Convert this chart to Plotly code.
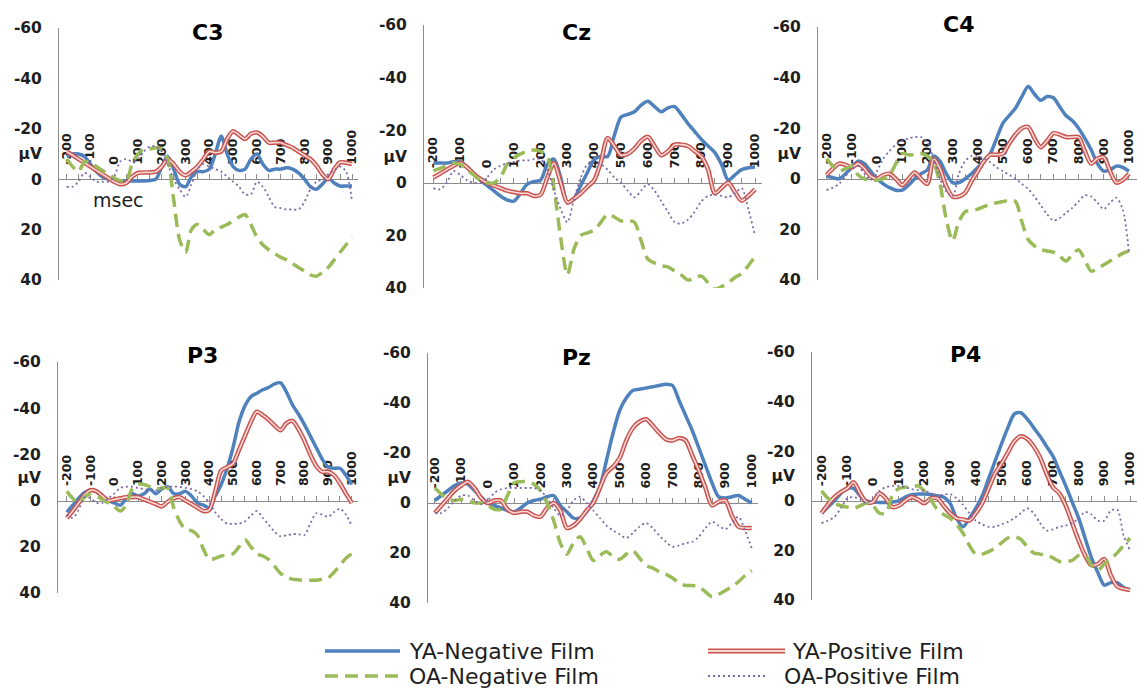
import plotly.graph_objects as go

# ---------------- data ----------------
T = list(range(-200, 1001, 25))  # msec
X_TICKS = list(range(-200, 1001, 50))
X_LABELS = [str(t) if t % 100 == 0 else "" for t in X_TICKS]
Y_TICKS = [-60, -40, -20, -10, 0, 20, 40]
Y_LABELS = ["-60", "-40", "-20", "μV", "0", "20", "40"]
SERIES = ["YA-Negative Film", "YA-Positive Film", "OA-Negative Film", "OA-Positive Film"]
PANELS = ["C3", "Cz", "C4", "P3", "Pz", "P4"]

C3_YA_NEG = [-9, -10, -10, -9, -6, -3, -1, 0, 0.5, 0.7, 0.7, 0.7, 0.7, 0.7, 0.5, 0,
             -5, -9, -4, 2, 3, -1, -3, -3, -4, -10, -17, -10, -5, -3.5, -4, -8,
             -10, -6, -3.5, -4, -4, -4.5, -4, -2.5, 0, 3, 4, 2, -0.5, 1.5, 2.7, 2.7, 2.7]
C3_YA_POS = [-11, -9.5, -8, -6.5, -5, -3.5, -2, -0.5, 1, 2, 1.5, -1, -2.5, -2.7, -2.7, -3,
             -5, -8, -6, -3, -1.5, -3, -5, -8, -11, -10.5, -11, -16, -19, -17.5, -16, -18,
             -18.5, -17, -14.5, -14.5, -14.5, -13.5, -12.5, -11, -9.5, -8, -5.5, -2, 0, -4, -6.7, -6.5, -6]
C3_OA_NEG = [-8, -5, -3, -7, -6.5, -5, -3.5, -2, -0.5, 0.5, 1, -6, -10, -12, -12, -12.5,
             -12, -8, 8, 24, 29, 20, 18, 20, 22, 20, 19, 18, 16.5, 15, 14, 18,
             23, 26, 28, 29.5, 31, 32, 33.5, 35, 36.5, 38, 38.5, 37, 35, 32, 29, 26, 23]
C3_OA_POS = [3, 3, 1, -2.5, -1, 1, 1, 1, -1, -7, -8, -7, -8, -11, -13, -13,
             -11, -6, 0, 4, 7, 2, -4, -6, -5, -4, -3, -1, 1, 3, 6, 6,
             1, 3, 7, 11, 11.5, 12, 12, 12, 9, 4, 1, 0, -2, -3.5, -5, -3, 9]

CZ_YA_NEG = [-7.5, -7.5, -7.5, -8, -8, -6, -3.5, -1, 1, 3, 5, 6.5, 7, 4, 0.5, -0.5,
             -1, -7, -9, -2, 7.5, 6, 1, -4, -9, -10, -10, -18, -25, -26, -27, -29.5,
             -31, -29, -27, -28.5, -29, -26, -22.5, -19.5, -16.5, -14, -11.5, -7, -1, -3, -5, -5.7, -6]
CZ_YA_POS = [-2, -3.5, -5, -6.5, -7.5, -6, -3.5, -1.5, 0, 1, 2, 3, 3.5, 4, 4, 5,
             4.5, -2, -7.5, 0, 7.5, 6, 4, 1.5, -1, -8, -17, -14, -10.5, -11, -13, -16,
             -17.5, -14, -10.5, -12, -14.5, -14.5, -14, -12, -10, -5, 4, 2, 0, 3.5, 6.8, 5, 2.5]
CZ_OA_NEG = [-4.5, -5.5, -6.5, -7.5, -7, -5, -3, -1, 0, 0, -2, -7, -9.5, -11, -12, -12.5,
             -12, -10, 2, 21, 35, 25, 20, 19, 18, 15, 12, 13, 14.5, 14.5, 15, 22,
             29, 30.5, 31.5, 32, 33.5, 35, 37, 36, 35.5, 38, 40.5, 39.5, 38, 36, 34.5, 31.5, 28]
CZ_OA_POS = [2, 2.5, 0, -4.5, -3, -1, 0, 0, -2, -5, -6.5, -7.5, -8, -8.5, -8.5, -9,
             -9, -5, 3, 10, 15, 6, -2, -7, -8, -7, -5, -2, 0, 3, 5.5, 3,
             0.5, 3, 7, 11, 15, 15.5, 14, 11, 7, 5, 4.5, 5, 5.5, 4, 2, 10, 20]

C4_YA_NEG = [-1, -0.5, 0, -2, -4.5, -7, -6, -3, 0, 2, 3.5, 4.5, 4.5, 2.5, 0, -2,
             -3.5, -9, -7, -2, 1.5, 1.5, 0, -2, -4.5, -7, -10, -16, -22, -25, -28, -32.5,
             -36.5, -33.5, -31, -32.5, -32, -28.5, -25, -23, -20, -16, -11.5, -6, -3, -3.5, -5, -4.5, -3]
C4_YA_POS = [-1.5, -4, -6, -5.5, -4.5, -6, -4, -1, 0, -1.5, -2, 0, 2.5, 0, -2.5, 0,
             2, -8, -4, 3, 7, 7, 5.5, 1, -3, -7, -9.5, -9.5, -10, -14, -17.5, -20,
             -20.5, -16, -12.5, -15, -18, -17.5, -16.5, -16.5, -16.5, -11, -6, -8, -8.5, -3, 1.5, 0.5, -2]
C4_OA_NEG = [-8, -5, -3, -4, -5, -1.5, 0, 0.5, 0.5, 0, -1.5, -6, -10, -9.5, -9.5, -10,
             -9, -6.5, 2, 16, 24.5, 17, 13, 12.5, 12, 11, 10, 9.5, 9, 8.5, 9, 17,
             24, 26.5, 28, 28.5, 29, 30.5, 32.5, 30, 28, 32, 36.5, 35.5, 34, 32.5, 31, 29.5, 28.5]
C4_OA_POS = [4.5, 3.5, 2, -1, -4, -5, -2, 0.5, -3, -8, -11, -13.5, -15, -16, -16.5, -16.5,
             -14.5, -8, 0, 5, 7, -2, -7, -9, -9, -8, -6.5, -4.5, -3, -1.5, 0, 2,
             4, 7, 10.5, 14, 16.5, 15.5, 13.5, 11.5, 9, 6.5, 7, 9.5, 12, 9.5, 7.5, 12, 29]

P3_YA_NEG = [5, 2, -1, -3.5, -4.5, -4, -2, 0, 1, 2, -1, -3, -2, -3, -5, -3,
             -5, -6, -3, -3, -4, -2, 1, 2, 3, -2, -7, -14, -23, -34, -41, -45,
             -46.5, -48, -49, -50.5, -51, -47, -41.5, -37.5, -33, -28, -23, -18, -14.5, -14, -14, -11, -7]
P3_YA_POS = [7.5, 4.5, 1, -2.5, -4.5, -4, -2, 0, -0.5, -1, -1.5, -1.5, -1.5, -0.5, 0.5, 1.5,
             2.5, 0.5, -1, -1.5, 0, 1.5, 3, 4.5, 4, -4, -13, -14.5, -16, -22, -28, -34,
             -38.5, -37, -35, -32.5, -30.5, -33.5, -34.5, -31, -26, -20, -15, -12.5, -12.5, -11, -7.5, -3, 1]
P3_OA_NEG = [-4, -1, 1, -1.5, -3, -2, -0.5, 1, 2.5, 4.5, 2, -5, -7, -7, -6, -5,
             -5.5, -5.5, 3, 9, 12.5, 13, 15, 21, 25.5, 25, 24, 23.5, 23, 20, 17, 20,
             23, 24, 25.5, 28.5, 31.5, 33, 34, 34.3, 34.5, 34.5, 34.5, 34, 33.5, 31, 28, 25, 23]
P3_OA_POS = [6, 7.5, 4, -1.5, -1, 1, 1, -1, -3, -5.5, -6, -6, -5.5, -5, -4.5, -4.5,
             -5.5, -6, -6, -6, -5.5, -5, -4, -2, 1, 5, 8, 10, 10, 10, 9, 6.5,
             4.5, 7.5, 10.5, 13.5, 15.5, 15, 14.5, 14.5, 15, 10, 5.5, 6, 7, 5, 3.5, 6, 11]

PZ_YA_NEG = [-1, -3, -5, -7, -8, -7.5, -5, -2.5, 0, 1, 2, 3, 3.5, 2, 0, -1,
             -1.5, -2.5, -3, 1, 3.5, 6, 6, 3.5, -1, -6.5, -17, -28, -37, -42, -45, -45.5,
             -46, -46.5, -47, -47.5, -47, -41, -35, -29, -22, -15, -8, -2.5, -2, -2.5, -3, -1.5, 0]
PZ_YA_POS = [4, 1, -2, -5, -7, -8.5, -6, -2, 0, -1, -1, 2.5, 4, 3.5, 3.5, 5,
             5.5, 2, 0, 3, 10, 9, 6.5, 3, 0, -6, -12, -14.5, -18, -25, -30, -32.5,
             -33.5, -31, -28, -25.5, -25, -26, -25, -19, -13, -6, 1, -0.5, -1, 5, 9.5, 10, 10]
PZ_OA_NEG = [-6, -3.5, -1.5, -1, -1.5, -1, 0, 0, 1, 2.5, 2.5, -3, -8, -8.5, -8.5, -7.5,
             -5, 0, 7, 16, 20.5, 16, 13.5, 18, 23, 21, 19.5, 21.5, 22.5, 20.5, 19, 22,
             25, 26, 27.5, 28.5, 30, 32, 33, 33, 33.5, 35.5, 37.5, 36.5, 35, 33.5, 31.5, 29, 27]
PZ_OA_POS = [4, 4, 2, -1, -3, -3, -1, 0.5, -1, -4, -5.5, -6, -6, -6, -6, -6,
             -5, -2, 2, 5, 3, -1, -2.5, 0, 3, 6, 9, 11, 12.5, 14, 12, 9.5,
             8, 10, 13, 15.5, 17.5, 17, 16, 15.5, 13.5, 10, 7.5, 9, 10.5, 8, 5.5, 11, 18]

P4_YA_NEG = [5, 2.5, 0, -3, -5, -5, -2, 0, 0.5, 0.7, 0.7, 0.5, 0, -1.5, -2.5, -2.7,
             -2.7, -2.5, -2, -1.5, 1, 7, 10.5, 7, 3, -2, -9, -16, -23, -29.5, -35, -35.5,
             -33, -29.5, -26, -22, -18, -12, -6, 0.5, 7, 15, 23, 29, 34, 33, 33, 35, 36]
P4_YA_POS = [5, 1.5, -1.5, -3.5, -5, -7.5, -3, 0.5, 0.5, -3, -1, 2.5, 2, 0, -1.5, -0.5,
             1, -1, -1, 2, 5, 7, 7.5, 8, 5, 1, -5, -11, -15, -19.5, -24, -26,
             -25, -22, -17.5, -11, -5.5, -3, 2, 9, 16, 22, 26, 25.5, 23.5, 30, 34.5, 35.5, 36]
P4_OA_NEG = [-4, -1, 1, 2, 2.5, 3, 2, 1, 2, 5, 5, -2, -5, -5.5, -5.5, -6,
             -4, -0.5, 3.5, 5.5, 7, 9.5, 13, 18, 21.5, 21.5, 20.5, 19, 17, 15, 14.5, 15.5,
             18.5, 21, 21.5, 22, 23, 24.5, 24.5, 24, 22, 22, 26, 28, 25.5, 23.5, 21, 18, 15]
P4_OA_POS = [9, 8, 6.5, 3, -1, -1.5, -0.5, 1, -1, -4, -5.5, -6, -6, -5.5, -4.7, -4.3,
             -4, -3, -2, -2.5, -2.7, -1, 1.5, 5, 8, 9.5, 10.5, 10.5, 9.5, 8.5, 7, 5,
             3, 5, 9, 12, 11.5, 10.5, 10, 9, 7, 4.5, 5.5, 8, 8, 4, 3.5, 14, 20]

DATA = {
    "C3": [C3_YA_NEG, C3_YA_POS, C3_OA_NEG, C3_OA_POS],
    "Cz": [CZ_YA_NEG, CZ_YA_POS, CZ_OA_NEG, CZ_OA_POS],
    "C4": [C4_YA_NEG, C4_YA_POS, C4_OA_NEG, C4_OA_POS],
    "P3": [P3_YA_NEG, P3_YA_POS, P3_OA_NEG, P3_OA_POS],
    "Pz": [PZ_YA_NEG, PZ_YA_POS, PZ_OA_NEG, PZ_OA_POS],
    "P4": [P4_YA_NEG, P4_YA_POS, P4_OA_NEG, P4_OA_POS],
}

# ---------------- layout geometry (pixels) ----------------
W, H = 1137, 688
# x0, x1, ytop, ybottom, xrange
GEOM = {
    "C3": (59, 358, 28, 280, [-232, 1025]),
    "Cz": (424, 762, 25, 288, [-235, 1026]),
    "C4": (818, 1137, 27, 280, [-234, 1032]),
    "P3": (58, 358, 362, 593, [-237, 1026]),
    "Pz": (428, 758, 353, 603, [-226, 1024]),
    "P4": (812, 1137, 352, 600, [-237, 1027]),
}
TITLE_POS = {"C3": (207, 33), "Cz": (576, 33), "C4": (958, 25),
             "P3": (202, 355), "Pz": (576, 357), "P4": (965, 354)}

BLUE = "#4F81BD"
RED = "#C9524E"
RED_IN = "#F6D9D7"
GREEN = "#9BBB59"
PURPLE = "#7E6AA8"
AXIS = "#8C8C8C"
TXT = "#1E1E1E"
FONT = "DejaVu Sans"

fig = go.Figure()
layout = dict(width=W, height=H, margin=dict(l=0, r=0, t=0, b=0, pad=0, autoexpand=False),
              paper_bgcolor="white", plot_bgcolor="rgba(0,0,0,0)",
              showlegend=False, autosize=False)
annotations = []
shapes = []

for i, name in enumerate(PANELS, start=1):
    sfx = "" if i == 1 else str(i)
    xa, ya = "x" + sfx, "y" + sfx
    x0, x1, yt, yb, xr = GEOM[name]
    ya_neg, ya_pos, oa_neg, oa_pos = DATA[name]
    common = dict(x=T, xaxis=xa, yaxis=ya, mode="lines", hoverinfo="skip")
    fig.add_trace(go.Scatter(y=ya_neg, line=dict(color=BLUE, width=3.5, shape="spline", smoothing=0.8), **common))
    fig.add_trace(go.Scatter(y=ya_pos, line=dict(color=RED, width=4.5, shape="spline", smoothing=0.8), **common))
    fig.add_trace(go.Scatter(y=ya_pos, line=dict(color=RED_IN, width=1.6, shape="spline", smoothing=0.8), **common))
    fig.add_trace(go.Scatter(y=oa_neg, line=dict(color=GREEN, width=3.5, dash="13px,7px", shape="spline", smoothing=0.8), **common))
    fig.add_trace(go.Scatter(y=oa_pos, line=dict(color=PURPLE, width=1.8, dash="2px,3px", shape="spline", smoothing=0.8), **common))

    zero_px = yt + (0 - (-60)) / 100.0 * (yb - yt)
    layout["xaxis" + sfx] = dict(
        domain=[x0 / W, x1 / W], range=xr, anchor="free", position=1 - zero_px / H,
        side="top", showline=True, linecolor=AXIS, linewidth=1,
        ticks="outside", ticklen=5, tickcolor=AXIS, tickwidth=1,
        tickmode="array", tickvals=X_TICKS, ticktext=X_LABELS, tickangle=-90,
        tickfont=dict(family=FONT, size=12.5, color=TXT, weight="bold"),
        ticklabelstandoff=7, ticklabeloverflow="allow",
        showgrid=False, zeroline=False, layer="below traces",
        automargin=False, fixedrange=True)
    layout["yaxis" + sfx] = dict(
        domain=[1 - yb / H, 1 - yt / H], range=[40, -60], anchor=xa,
        showline=True, linecolor=AXIS, linewidth=1, ticks="",
        tickmode="array", tickvals=Y_TICKS, ticktext=Y_LABELS,
        tickfont=dict(family=FONT, size=15.5, color=TXT, weight="bold"),
        ticklabelstandoff=13, showgrid=False, zeroline=False,
        automargin=False, fixedrange=True)

    tx, ty = TITLE_POS[name]
    annotations.append(dict(text=name, x=tx / W, y=1 - ty / H, xref="paper", yref="paper",
                            showarrow=False, xanchor="center", yanchor="middle",
                            font=dict(family=FONT, size=22, color="black", weight="bold")))

# "msec" label in C3
annotations.append(dict(text="msec", x=118 / W, y=1 - 200 / H, xref="paper", yref="paper",
                        showarrow=False, xanchor="center", yanchor="middle",
                        font=dict(family=FONT, size=19, color=TXT)))

# ---------------- legend (manual) ----------------
def px(x):
    return x / W

def py(y):
    return 1 - y / H

LEG = [
    (SERIES[0], 325, 400, 651, 407),
    (SERIES[1], 708, 785, 651, 790),
    (SERIES[2], 325, 400, 676, 407),
    (SERIES[3], 708, 767, 676, 782),
]
styles = [
    [dict(color=BLUE, width=3.5)],
    [dict(color=RED, width=5), dict(color=RED_IN, width=2)],
    [dict(color=GREEN, width=3.5, dash="13px,7px")],
    [dict(color=PURPLE, width=2, dash="2px,3px")],
]
for (label, lx0, lx1, ly, tx), st in zip(LEG, styles):
    for s in st:
        shapes.append(dict(type="line", xref="paper", yref="paper",
                           x0=px(lx0), x1=px(lx1), y0=py(ly), y1=py(ly), line=s))
    annotations.append(dict(text=label, x=px(tx), y=py(ly), xref="paper", yref="paper",
                            showarrow=False, xanchor="left", yanchor="middle",
                            font=dict(family=FONT, size=22, color=TXT)))

layout["annotations"] = annotations
layout["shapes"] = shapes
fig.update_layout(**layout)
fig.write_html("out.html", config={"displayModeBar": False, "staticPlot": True},
               post_script="document.body.style.margin='0';document.body.style.overflow='hidden';")
